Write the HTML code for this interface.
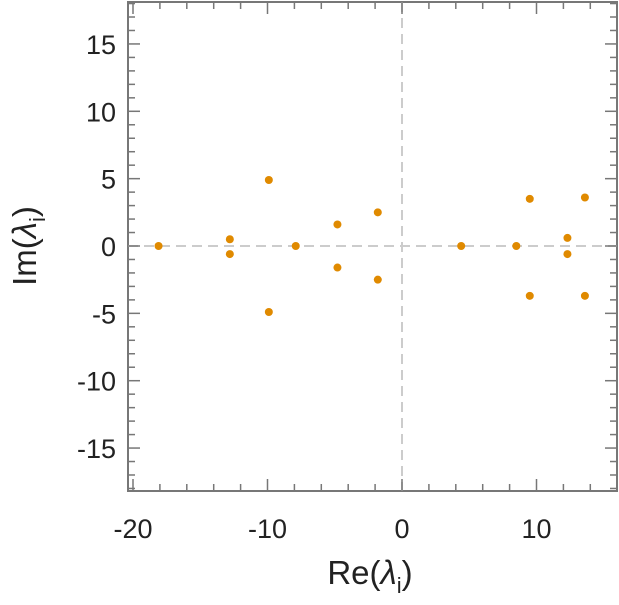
<!DOCTYPE html>
<html><head><meta charset="utf-8"><style>
body{margin:0;background:#fff}
svg text{font-family:"Liberation Sans",sans-serif;fill:#222}
</style></head><body>
<svg width="619" height="600">
<g id="axes"></g>
<g id="pts"></g>
<text x="370" y="584" font-size="33" text-anchor="middle">Re(<tspan font-style="italic">λ</tspan><tspan font-size="22" dy="9">i</tspan><tspan dy="-9">)</tspan></text>
<text transform="translate(36,246) rotate(-90)" font-size="33" text-anchor="middle">Im(<tspan font-style="italic">λ</tspan><tspan font-size="22" dy="9">i</tspan><tspan dy="-9">)</tspan></text>
</svg>
<script>
const reVals=[-18.1,-12.8,-12.8,-9.9,-9.9,-7.9,-4.8,-4.8,-1.8,-1.8,4.4,8.5,9.5,9.5,12.3,12.3,13.6,13.6];
const imVals=[0,0.5,-0.6,4.9,-4.9,0,1.6,-1.6,2.5,-2.5,0,0,3.5,-3.7,0.6,-0.6,3.6,-3.7];
const xTicks=[-20,-10,0,10];
const yTicks=[-15,-10,-5,0,5,10,15];
const NS='http://www.w3.org/2000/svg';
const L=128,R=617,T=2,B=491;
const sx=v=>402+v*13.45, sy=v=>246-v*13.47;
const ax=document.getElementById('axes'), pg=document.getElementById('pts');
function mk(t,a,p){const e=document.createElementNS(NS,t);for(const k in a)e.setAttribute(k,a[k]);p.appendChild(e);return e;}
const fr=mk('rect',{x:L,y:T,width:R-L,height:B-T,fill:'none',stroke:'#777','stroke-width':2},ax);


const zx=mk('line',{x1:sx(0),x2:sx(0),y1:T,y2:B,stroke:'#ccc','stroke-width':2,'stroke-dasharray':'10,6'},ax);


const zy=mk('line',{x1:L,x2:R,y1:sy(0),y2:sy(0),stroke:'#ccc','stroke-width':2,'stroke-dasharray':'10,6'},ax);


for(let v=-20;v<=15;v+=2){const maj=v%10===0,len=maj?12:7,x=sx(v);
 mk('line',{x1:x,x2:x,y1:B,y2:B-len,stroke:'#777','stroke-width':1.5},ax);
 mk('line',{x1:x,x2:x,y1:T,y2:T+len,stroke:'#777','stroke-width':1.5},ax);}
for(let v=-18;v<=18;v++){const maj=v%5===0,len=maj?12:7,y=sy(v);
 mk('line',{x1:L,x2:L+len,y1:y,y2:y,stroke:'#777','stroke-width':1.5},ax);
 mk('line',{x1:R,x2:R-len,y1:y,y2:y,stroke:'#777','stroke-width':1.5},ax);}
xTicks.forEach(v=>{const t=mk('text',{x:sx(v),y:538,'font-size':27,'text-anchor':'middle'},ax);t.textContent=v;
 
 });
yTicks.forEach(v=>{const t=mk('text',{x:116,y:sy(v)+10,'font-size':27,'text-anchor':'end'},ax);t.textContent=v;
 
 });
reVals.forEach((r,i)=>{const c=mk('circle',{cx:sx(r),cy:sy(imVals[i]),r:4,fill:'#e08a00'},pg);
 
 });
</script>
</body></html>
